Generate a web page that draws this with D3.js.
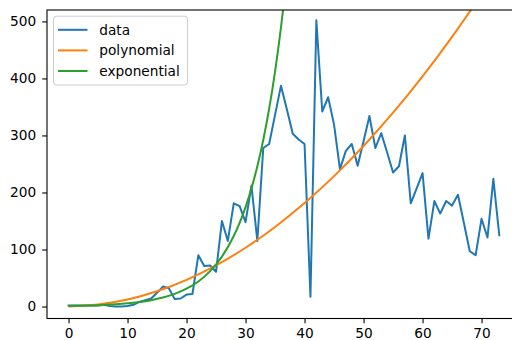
<!DOCTYPE html>
<html>
<head>
<meta charset="utf-8">
<script src="https://cdn.jsdelivr.net/npm/d3@7"></script>
<style>
  html, body { margin: 0; padding: 0; background: #fff; }
  svg { display: block; }
  text { font-family: "DejaVu Sans", sans-serif; }
</style>
</head>
<body>
<svg id="chart" width="512" height="340"></svg>
<script>
// Daily observed values, one per day starting at day 0
const observed = [
  2, 2, 2, 2, 2, 2, 3, 1, 0, 0,
  1, 3, 8, 11, 14, 24, 35, 32, 13, 14,
  21, 22, 90, 71, 72, 61, 150, 115, 181, 176,
  148, 212, 115, 278, 285, 336, 387, 346, 303, 293,
  285, 17, 502, 342, 367, 319, 241, 273, 285, 247,
  290, 334, 278, 304, 270, 235, 246, 300, 181, 207,
  234, 119, 185, 163, 185, 177, 196, 147, 97, 90,
  154, 121, 224, 125
];

// Polynomial fit, sampled every 5 days
const polyDays   = [0, 5, 10, 15, 20, 25, 30, 35, 40, 45, 50, 55, 60, 65, 70, 73];
const polyValues = [0, 3.5, 12.4, 26.9, 46.8, 72.2, 103.1, 139.5, 181.4, 228.7, 281.6, 339.9, 403.7, 473, 547.7, 595];

// Exponential fit, sampled every 2 days
const expDays   = [0, 2, 4, 6, 8, 10, 12, 14, 16, 18, 20, 22, 24, 26, 28, 30, 32, 34, 36, 38];
const expValues = [1.0, 1.41, 1.99, 2.81, 3.96, 5.58, 7.88, 11.1, 15.7, 22.1, 31.2, 44.0, 62.1, 87.6, 123.6, 174.3, 245.9, 346.9, 489.3, 690];

const xTicks = [0, 10, 20, 30, 40, 50, 60, 70];
const yTicks = [0, 100, 200, 300, 400, 500];

const seriesNames  = ["data", "polynomial", "exponential"];
const seriesColors = ["#1f77b4", "#ff7f0e", "#2ca02c"];

const svg = d3.select("#chart");
const plot = { left: 47, right: 520.8, top: 10, bottom: 318.5 };

const x = d3.scaleLinear().domain([-3.65, 76.65]).range([plot.left, plot.right]);
const y = d3.scaleLinear().domain([-21, 520]).range([plot.bottom, plot.top]);

svg.append("defs").append("clipPath").attr("id", "plot-clip")
  .append("rect")
  .attr("x", plot.left).attr("y", plot.top)
  .attr("width", plot.right - plot.left).attr("height", plot.bottom - plot.top);

const fontPx = 13.7;

// Axes
const xAxis = d3.axisBottom(x).tickValues(xTicks).tickSize(4.8).tickPadding(5).tickSizeOuter(0);
const yAxis = d3.axisLeft(y).tickValues(yTicks).tickSize(4.8).tickPadding(6).tickSizeOuter(0);

const gx = svg.append("g").attr("transform", `translate(0,${plot.bottom})`).call(xAxis);
const gy = svg.append("g").attr("transform", `translate(${plot.left},0)`).call(yAxis);
[gx, gy].forEach(g => {
  g.select(".domain").remove();
  g.selectAll(".tick line").attr("stroke", "#000").attr("stroke-width", 1.1);
  g.selectAll(".tick text")
    .attr("fill", "#000")
    .style("font-family", "'DejaVu Sans', sans-serif")
    .style("font-size", fontPx + "px");
});

// Lines
const lines = svg.append("g").attr("clip-path", "url(#plot-clip)");

const dataLine = d3.line()
  .x((d, i) => x(i))
  .y(d => y(d));

const fitLine = d3.line()
  .x(d => x(d[0]))
  .y(d => y(d[1]))
  .curve(d3.curveCatmullRom.alpha(0.5));

lines.append("path")
  .datum(observed)
  .attr("d", dataLine)
  .attr("fill", "none")
  .attr("stroke", seriesColors[0])
  .attr("stroke-width", 2)
  .attr("stroke-linejoin", "round")
  .attr("stroke-linecap", "square");

lines.append("path")
  .datum(d3.zip(polyDays, polyValues))
  .attr("d", fitLine)
  .attr("fill", "none")
  .attr("stroke", seriesColors[1])
  .attr("stroke-width", 2);

lines.append("path")
  .datum(d3.zip(expDays, expValues))
  .attr("d", fitLine)
  .attr("fill", "none")
  .attr("stroke", seriesColors[2])
  .attr("stroke-width", 2);

// Frame
svg.append("rect")
  .attr("x", plot.left).attr("y", plot.top)
  .attr("width", plot.right - plot.left).attr("height", plot.bottom - plot.top)
  .attr("fill", "none")
  .attr("stroke", "#000")
  .attr("stroke-width", 1.1);

// Legend
const legend = svg.append("g");
legend.append("rect")
  .attr("x", 53.5).attr("y", 16.2)
  .attr("width", 134).attr("height", 68.8)
  .attr("rx", 3).attr("ry", 3)
  .attr("fill", "#fff").attr("fill-opacity", 0.8)
  .attr("stroke", "#cccccc").attr("stroke-width", 1);

const rowY = d3.scaleLinear().domain([0, 1]).range([29.8, 50.4]);
const rows = legend.selectAll("g.row")
  .data(seriesNames)
  .join("g")
  .attr("class", "row")
  .attr("transform", (d, i) => `translate(0,${rowY(i)})`);

rows.append("line")
  .attr("x1", 58).attr("x2", 87.5)
  .attr("y1", 0).attr("y2", 0)
  .attr("stroke", (d, i) => seriesColors[i])
  .attr("stroke-width", 2);

rows.append("text")
  .attr("x", 99.3)
  .attr("y", 0)
  .attr("dy", "0.36em")
  .attr("fill", "#000")
  .style("font-size", fontPx + "px")
  .text(d => d);
</script>
</body>
</html>
